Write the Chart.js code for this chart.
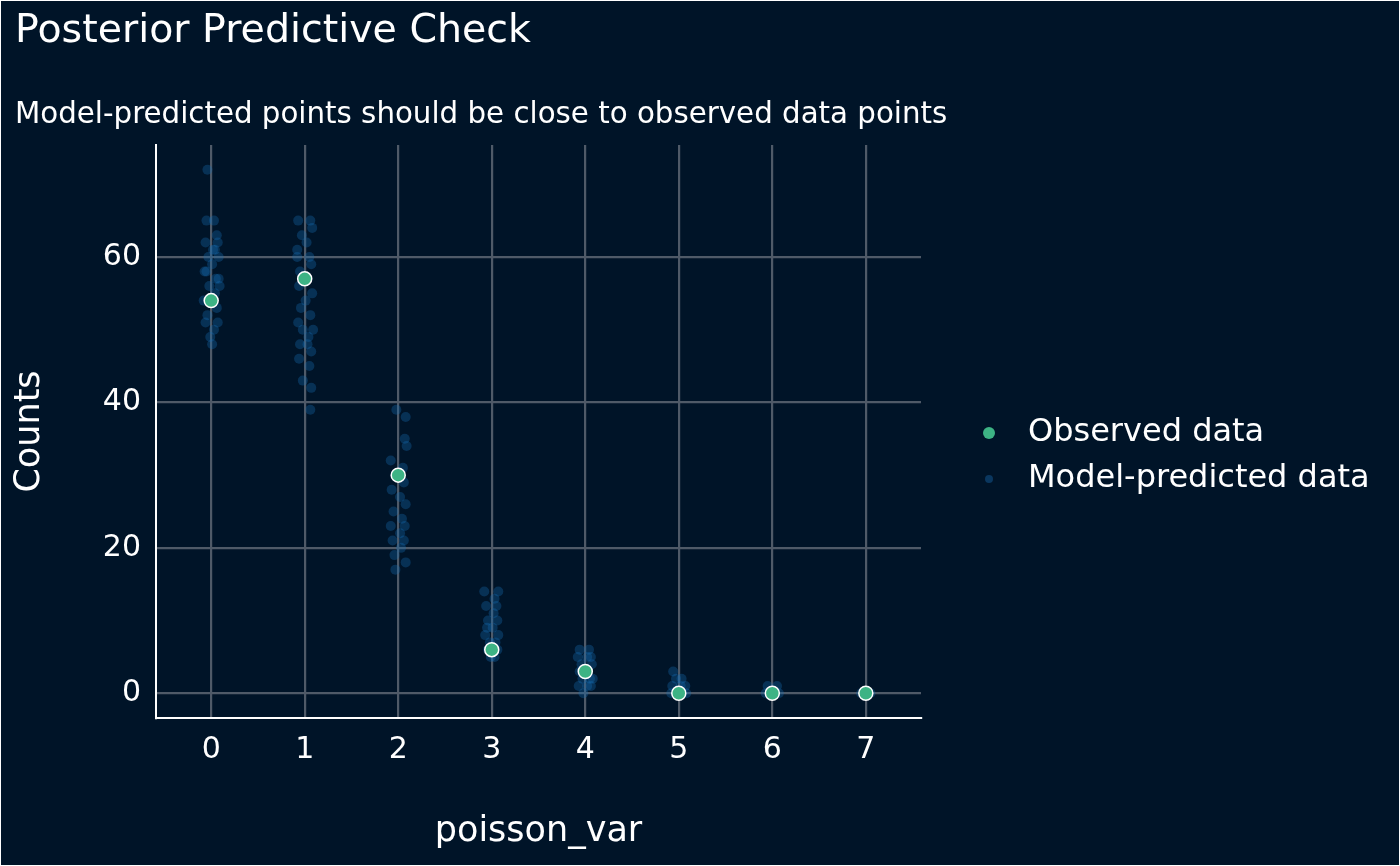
<!DOCTYPE html>
<html><head><meta charset="utf-8">
<script src="https://cdn.jsdelivr.net/npm/chart.js@4"></script>
<style>html,body{margin:0;background:#001428;}#wrap{width:1400px;height:866px;}</style>
</head><body><div id="wrap"><canvas id="c" width="1400" height="866"></canvas></div>
<script>
// observed counts per poisson_var value
const categories = [0, 1, 2, 3, 4, 5, 6, 7];
const observed = [54, 57, 30, 6, 3, 0, 0, 0];

// model-predicted draws (count, jitter offset from category)
const predCat = [
  0,0,0,0,0,0,0,0,0,0,0,0,0,0,0,0,0,0,0,0,0,0,0,0,0,0,
  1,1,1,1,1,1,1,1,1,1,1,1,1,1,1,1,1,1,1,1,1,1,1,1,1,1,1,1,
  2,2,2,2,2,2,2,2,2,2,2,2,2,2,2,2,2,2,2,2,2,2,
  3,3,3,3,3,3,3,3,3,3,3,3,3,3,3,3,3,3,
  4,4,4,4,4,4,4,4,4,4,4,4,4,4,4,4,
  5,5,5,5,5,5,5,5,5,
  6,6,6,6,6,6,
  7,7,7,7
];
const predY = [
  72,65,65,63,62,62,61,60,60,59,58,57,56,56,55,54,53,52,51,51,50,49,48,57,58,61,
  65,65,64,63,62,61,60,59,58,57,56,55,54,53,52,51,50,50,49,48,48,47,46,45,43,42,39,60,
  39,38,35,34,32,31,30,29,28,27,26,25,24,23,23,22,21,21,20,19,18,17,
  14,14,13,12,12,11,10,10,9,9,8,8,7,7,6,6,5,5,
  6,6,5,5,5,4,4,3,3,2,2,2,1,1,1,0,
  3,2,2,1,1,1,0,0,0,
  1,1,0,0,0,0,
  0,0,0,0
];
const predJit = [
  -0.04,-0.05,0.03,0.06,-0.06,0.07,0.02,-0.03,0.08,0.01,-0.07,0.05,-0.02,0.09,0.04,-0.08,0.06,-0.04,0.07,-0.06,0.03,-0.01,0.01,0.08,-0.05,0.04,
  -0.07,0.06,0.08,-0.03,0.02,-0.08,0.05,0.07,-0.05,0.03,-0.06,0.08,0.01,-0.04,0.06,-0.07,0.09,-0.02,0.04,-0.05,0.03,0.07,-0.06,0.05,-0.02,0.07,0.06,-0.08,
  -0.02,0.08,0.07,0.09,-0.08,0.05,-0.03,0.06,-0.07,0.02,0.08,-0.05,0.04,-0.08,0.07,0.02,-0.06,0.06,0.03,-0.04,0.08,-0.03,
  -0.08,0.07,0.03,-0.06,0.05,0.02,-0.04,0.06,0.01,-0.05,0.07,-0.07,0.04,-0.02,0.06,-0.04,0.03,-0.01,
  -0.06,0.04,-0.08,0.02,0.06,-0.04,0.07,-0.06,0.03,0.05,-0.03,0.08,-0.07,0.02,0.06,-0.02,
  -0.06,0.03,-0.03,0.07,-0.07,0.02,0.08,-0.08,0.04,
  -0.05,0.05,-0.07,0.07,0.03,-0.03,
  -0.05,0.05,0.02,-0.02
];

const bg = "#001428";
const fontFam = "'DejaVu Sans', sans-serif";

const textPlugin = {
  id: "textPlugin",
  beforeDraw(chart) {
    const ctx = chart.ctx;
    ctx.save();
    ctx.fillStyle = bg;
    ctx.fillRect(0, 0, chart.width, chart.height);
    ctx.strokeStyle = "#ffffff";
    ctx.lineWidth = 1;
    ctx.strokeRect(0.5, 0.5, chart.width - 1, chart.height - 1);
    ctx.restore();
  },
  afterDraw(chart) {
    const ctx = chart.ctx;
    const a = chart.chartArea;
    ctx.save();
    ctx.fillStyle = "#ffffff";
    ctx.textBaseline = "middle";
    ctx.textAlign = "left";
    ctx.font = "39.5px " + fontFam;
    ctx.fillText("Posterior Predictive Check", 15, 32);
    ctx.font = "29.3px " + fontFam;
    ctx.fillText("Model-predicted points should be close to observed data points", 15, 115);
    ctx.font = "35px " + fontFam;
    ctx.textAlign = "center";
    ctx.fillText("poisson_var", (a.left + a.right) / 2, 832);
    ctx.translate(30, (a.top + a.bottom) / 2);
    ctx.rotate(-Math.PI / 2);
    ctx.fillText("Counts", 0, 0);
    ctx.restore();

    // legend
    ctx.save();
    ctx.font = "32px " + fontFam;
    ctx.textBaseline = "middle";
    ctx.fillStyle = "#ffffff";
    ctx.fillText("Observed data", 1028, 433);
    ctx.fillText("Model-predicted data", 1028, 479);
    ctx.beginPath();
    ctx.arc(989, 433, 6, 0, Math.PI * 2);
    ctx.fillStyle = "#3db384";
    ctx.fill();
    ctx.beginPath();
    ctx.arc(989, 479, 4, 0, Math.PI * 2);
    ctx.fillStyle = "rgba(20,90,150,0.5)";
    ctx.fill();
    ctx.restore();
  }
};

const predData = predY.map((y, i) => ({ x: predCat[i] + predJit[i], y: y }));
const obsData = observed.map((y, i) => ({ x: categories[i], y: y }));

new Chart(document.getElementById("c"), {
  type: "scatter",
  data: {
    datasets: [
      {
        label: "Observed data",
        data: obsData,
        pointRadius: 7,
        pointBackgroundColor: "#3db384",
        pointBorderColor: "#ffffff",
        pointBorderWidth: 1.5,
      },
      {
        label: "Model-predicted data",
        data: predData,
        pointRadius: 5,
        pointBackgroundColor: "rgba(20,110,180,0.33)",
        pointBorderWidth: 0,
      },
    ],
  },
  plugins: [textPlugin],
  options: {
    responsive: false,
    animation: false,
    layout: { padding: { left: 10, top: 145, right: 479, bottom: 10 } },
    plugins: { legend: { display: false }, tooltip: { enabled: false } },
    scales: {
      x: {
        type: "linear",
        min: -0.59,
        max: 7.59,
        afterFit(scale) { scale.height = 138; },
        afterBuildTicks(scale) { scale.ticks = categories.map((v) => ({ value: v })); },
        grid: { color: "#4f5a68", lineWidth: 2.2, drawTicks: false },
        border: { color: "#ffffff", width: 2 },
        ticks: { color: "#ffffff", font: { family: fontFam, size: 30 }, padding: 14 },
      },
      y: {
        min: -3.4,
        max: 75.4,
        afterFit(scale) { scale.width = 146; },
        afterBuildTicks(scale) { scale.ticks = [0, 20, 40, 60].map((v) => ({ value: v })); },
        grid: { color: "#4f5a68", lineWidth: 2.2, drawTicks: false },
        border: { color: "#ffffff", width: 2 },
        ticks: { color: "#ffffff", font: { family: fontFam, size: 30 }, padding: 15 },
      },
    },
  },
});
</script>
</body></html>
